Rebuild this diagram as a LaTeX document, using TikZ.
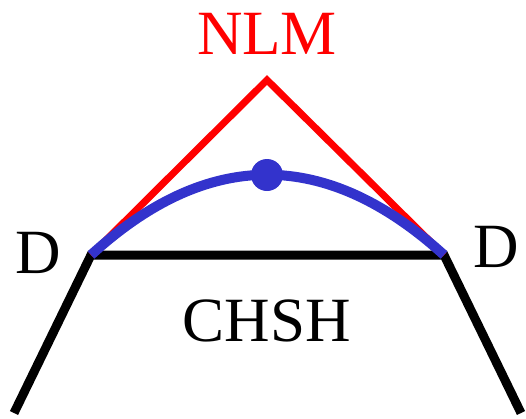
\documentclass[tikz,border=0pt]{standalone}
\usepackage{fontspec}
\setmainfont{Liberation Serif}
\usetikzlibrary{positioning}
\tikzset{lbl/.style={font=\fontsize{63}{66}\selectfont,inner sep=0pt},edge/.style={line width=9pt,line cap=butt}}

\begin{document}
\begin{tikzpicture}[x=1pt,y=-1pt,line join=miter]
\useasboundingbox (0,0) rectangle (526,418);
\coordinate (apex) at (267,80);
\coordinate (dl) at (91,255);
\coordinate (dr) at (444,255);
\coordinate (fl) at (14,413);
\coordinate (fr) at (521,413);
\node[lbl,text=red] (nlm) at (267,34) {NLM};
\node[lbl] (dleft) at (38,253) {D};
\node[lbl] (dright) at (496,247) {D};
\node[lbl] (chsh) at (267,321) {CHSH};
\draw[edge] (fl)--(dl)--(dr)--(fr);
\draw[line width=7pt,red] (dl)--(apex)--(dr);
\draw[line width=10pt,color={rgb,255:red,51;green,51;blue,204}] (dl) .. controls (208,148) and (326,148) .. (dr);
\fill[color={rgb,255:red,51;green,51;blue,204}] (267,175) circle (16);
\end{tikzpicture}
\end{document}
